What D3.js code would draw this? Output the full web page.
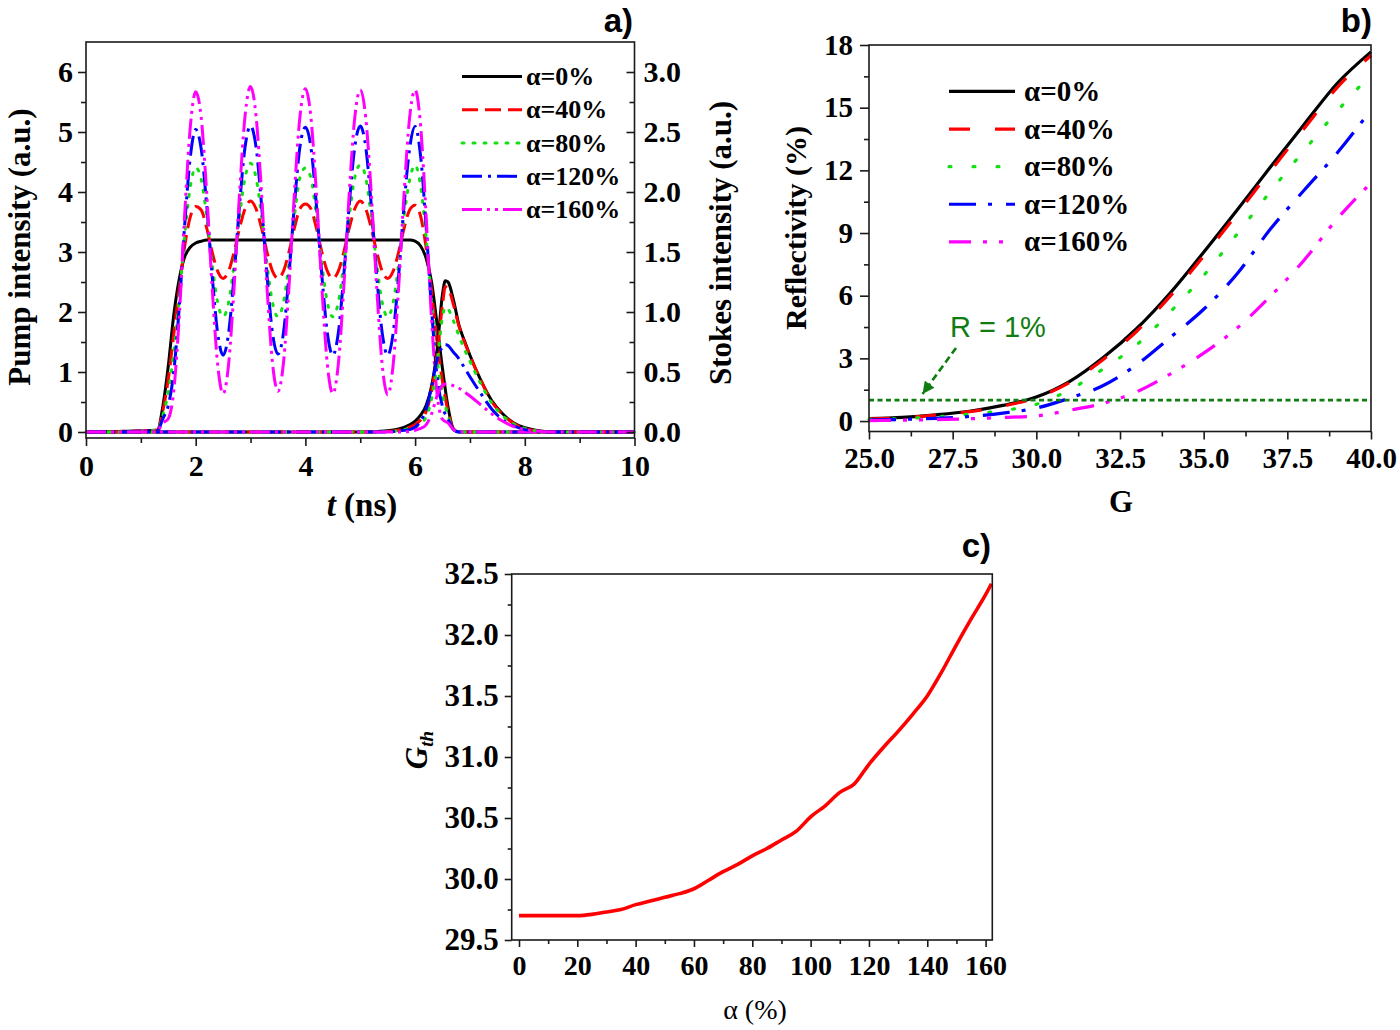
<!DOCTYPE html>
<html>
<head>
<meta charset="utf-8">
<script src="https://cdn.jsdelivr.net/npm/d3@7"></script>
<style>
  body { margin: 0; background: #fff; }
  svg { display: block; }
  text { font-family: "Liberation Serif", "Times New Roman", serif; font-weight: bold; fill: #000; }
</style>
</head>
<body>
<svg id="fig" width="1400" height="1030"></svg>
<script>
// ---------- data ----------

// legend names shared by panels a) and b)
const alphaNames = ["α=0%", "α=40%", "α=80%", "α=120%", "α=160%"];

// panel a) pump intensity (left axis, a.u.) vs t (ns)
const tPump = [0, 1.3, 1.4, 1.5, 1.6, 1.7, 1.8, 1.9, 2.0, 2.1,
  2.2, 2.3, 2.4, 2.5, 2.6, 2.7, 2.8, 2.9, 3.0, 3.1,
  3.2, 3.3, 3.4, 3.5, 3.6, 3.7, 3.8, 3.9, 4.0, 4.1,
  4.2, 4.3, 4.4, 4.5, 4.6, 4.7, 4.8, 4.9, 5.0, 5.1,
  5.2, 5.3, 5.4, 5.5, 5.6, 5.7, 5.8, 5.9,
  6.0, 6.1, 6.2, 6.3, 6.4, 6.5, 6.6, 6.7, 6.8, 10];

const pump0 = [0, 0.03, 0.42, 1.10, 1.95, 2.55, 2.92, 3.08, 3.15, 3.18,
  3.2, 3.2, 3.2, 3.2, 3.2, 3.2, 3.2, 3.2, 3.2, 3.2,
  3.2, 3.2, 3.2, 3.2, 3.2, 3.2, 3.2, 3.2, 3.2, 3.2,
  3.2, 3.2, 3.2, 3.2, 3.2, 3.2, 3.2, 3.2, 3.2, 3.2,
  3.2, 3.2, 3.2, 3.2, 3.2, 3.2, 3.2, 3.2,
  3.18, 3.10, 2.90, 2.50, 1.80, 1.05, 0.42, 0.05, 0, 0];

const pump40 = [0, 0.03, 0.35, 0.88, 1.63, 2.39, 3.10, 3.58, 3.76, 3.70,
  3.40, 3.00, 2.68, 2.56, 2.68, 3.00, 3.40, 3.72, 3.85, 3.72,
  3.40, 3.00, 2.68, 2.56, 2.68, 3.00, 3.40, 3.72, 3.80, 3.72,
  3.40, 3.00, 2.68, 2.56, 2.68, 3.00, 3.40, 3.72, 3.85, 3.72,
  3.40, 3.00, 2.68, 2.56, 2.68, 3.00, 3.40, 3.70,
  3.78, 3.60, 3.08, 2.35, 1.51, 0.84, 0.35, 0.05, 0, 0];

const pump80 = [0, 0.03, 0.28, 0.66, 1.32, 2.23, 3.28, 4.08, 4.41, 4.21,
  3.60, 2.80, 2.16, 1.92, 2.16, 2.80, 3.60, 4.24, 4.48, 4.24,
  3.60, 2.80, 2.16, 1.92, 2.16, 2.80, 3.60, 4.24, 4.40, 4.24,
  3.60, 2.80, 2.16, 1.92, 2.16, 2.80, 3.60, 4.24, 4.45, 4.24,
  3.60, 2.80, 2.16, 1.92, 2.16, 2.80, 3.60, 4.20,
  4.45, 4.10, 3.26, 2.19, 1.22, 0.63, 0.28, 0.04, 0, 0];

const pump120 = [0, 0.02, 0.22, 0.44, 1.00, 2.08, 3.46, 4.57, 5.04, 4.72,
  3.79, 2.61, 1.65, 1.28, 1.65, 2.61, 3.79, 4.75, 5.10, 4.75,
  3.79, 2.61, 1.65, 1.30, 1.65, 2.61, 3.79, 4.75, 5.08, 4.75,
  3.79, 2.61, 1.65, 1.28, 1.65, 2.61, 3.79, 4.75, 5.10, 4.75,
  3.79, 2.61, 1.65, 1.28, 1.65, 2.61, 3.79, 4.72,
  5.09, 4.60, 3.44, 2.04, 0.93, 0.42, 0.22, 0.04, 0, 0];

const pump160 = [0, 0.02, 0.15, 0.22, 0.69, 1.92, 3.64, 5.07, 5.67, 5.24,
  3.99, 2.41, 1.13, 0.64, 1.13, 2.41, 3.99, 5.27, 5.76, 5.27,
  3.99, 2.41, 1.15, 0.68, 1.15, 2.41, 3.99, 5.25, 5.72, 5.25,
  3.99, 2.41, 1.13, 0.64, 1.13, 2.41, 3.99, 5.24, 5.70, 5.24,
  3.99, 2.41, 1.12, 0.62, 1.12, 2.41, 3.99, 5.24,
  5.70, 5.11, 3.62, 1.88, 0.64, 0.21, 0.15, 0.04, 0, 0];

// panel a) Stokes intensity (right axis, a.u.) vs t (ns)
const tStokes = [0, 5.0, 5.5, 5.7, 5.9, 6.0, 6.1, 6.2, 6.3, 6.4, 6.5, 6.55, 6.6,
  6.7, 6.8, 6.9, 7.0, 7.2, 7.4, 7.6, 7.8, 8.0, 8.2, 8.5, 10];
const stokes0 = [0, 0, 0.01, 0.025, 0.06, 0.09, 0.14, 0.22, 0.38, 0.68, 1.15, 1.26, 1.25,
  1.10, 0.89, 0.76, 0.64, 0.43, 0.26, 0.15, 0.075, 0.035, 0.015, 0, 0];
const stokes40 = [0, 0, 0.005, 0.015, 0.04, 0.06, 0.10, 0.17, 0.34, 0.64, 1.06, 1.21, 1.20,
  1.06, 0.88, 0.75, 0.635, 0.43, 0.25, 0.145, 0.07, 0.03, 0.01, 0, 0];
const stokes80 = [0, 0, 0.005, 0.01, 0.03, 0.04, 0.07, 0.125, 0.275, 0.56, 0.96, 1.04, 1.025,
  0.925, 0.80, 0.69, 0.59, 0.40, 0.24, 0.135, 0.065, 0.03, 0.01, 0, 0];
const stokes120 = [0, 0, 0, 0.01, 0.02, 0.04, 0.09, 0.19, 0.375, 0.60, 0.71, 0.73, 0.72,
  0.665, 0.61, 0.535, 0.46, 0.32, 0.19, 0.10, 0.05, 0.02, 0.008, 0, 0];
const stokes160 = [0, 0, 0, 0, 0.005, 0.015, 0.03, 0.06, 0.15, 0.30, 0.39, 0.40, 0.40,
  0.385, 0.365, 0.335, 0.30, 0.225, 0.15, 0.09, 0.045, 0.02, 0.008, 0, 0];

// panel b) reflectivity (%) vs G
const gainG = [25, 26, 27, 28, 29, 30, 31, 32, 33, 34, 35, 36, 37, 38, 39, 40];
const refl0 = [0.12, 0.18, 0.30, 0.47, 0.75, 1.15, 1.90, 3.04, 4.43, 6.13, 8.08, 10.1, 12.17, 14.2, 16.18, 17.67];
const refl40 = [0.10, 0.16, 0.28, 0.45, 0.72, 1.12, 1.85, 2.95, 4.30, 5.98, 7.90, 9.92, 11.98, 14.0, 15.98, 17.5];
const refl80 = [0.08, 0.12, 0.20, 0.33, 0.50, 0.80, 1.50, 2.50, 3.65, 5.22, 6.97, 8.95, 11.0, 12.95, 14.85, 16.6];
const refl120 = [0.05, 0.08, 0.13, 0.22, 0.38, 0.62, 1.10, 1.70, 2.70, 4.00, 5.35, 7.05, 9.20, 11.05, 12.85, 14.9];
const refl160 = [0.02, 0.04, 0.07, 0.11, 0.17, 0.25, 0.52, 0.85, 1.40, 2.25, 3.25, 4.45, 5.98, 7.70, 9.70, 11.4];
const thresholdR = 1;                       // R = 1% reference line
const arrowFrom = [27.6, 3.5], arrowTo = [26.6, 1.3], labelAt = [27.42, 4.03];

// panel c) threshold gain G_th vs alpha (%)
const alphaPct = [0, 5, 10, 15, 20, 25, 30, 35, 40, 45, 50, 55, 60, 65, 70, 75, 80, 85, 90, 95,
  100, 105, 110, 115, 120, 125, 130, 135, 140, 145, 150, 155, 160, 162];
const gth = [29.70, 29.70, 29.70, 29.70, 29.70, 29.71, 29.73, 29.75, 29.79, 29.82, 29.85, 29.88,
  29.92, 29.99, 30.06, 30.12, 30.19, 30.25, 30.32, 30.39, 30.51, 30.60, 30.71, 30.78, 30.94,
  31.08, 31.21, 31.35, 31.50, 31.70, 31.92, 32.13, 32.33, 32.42];

// tick values
const ticksAx = [0, 2, 4, 6, 8, 10], ticksAy = [0, 1, 2, 3, 4, 5, 6], ticksAr = [0, 0.5, 1, 1.5, 2, 2.5, 3];
const ticksBx = [25, 27.5, 30, 32.5, 35, 37.5, 40], ticksBy = [0, 3, 6, 9, 12, 15, 18];
const ticksCx = [0, 20, 40, 60, 80, 100, 120, 140, 160], ticksCy = [29.5, 30, 30.5, 31, 31.5, 32, 32.5];

// ---------- styles ----------
const colors = ["#000000", "#ff0000", "#11e011", "#0000ff", "#ff00ff"];
const dashA = [null, "16,7", "2,9", "20,6,3,6", "20,5,3,5,3,5"];
const dashB = [null, "21,25", "2,22", "27,12,4,14", "22,12,4,12,4,14"];
const ink = "#1a1a1a";
const fmtInt = d3.format("d"), fmt1 = d3.format(".1f");

const svg = d3.select("#fig");

function frame(x, y) {
  const [x0, x1] = x.range(), [y0, y1] = y.range();
  svg.append("rect").attr("x", x0).attr("y", y1)
    .attr("width", x1 - x0).attr("height", y0 - y1)
    .attr("fill", "none").attr("stroke", ink).attr("stroke-width", 1.6);
}

function axis(gen, tx, ty, fs) {
  const g = svg.append("g").attr("transform", `translate(${tx},${ty})`).call(gen);
  g.select(".domain").remove();
  g.selectAll("line").attr("stroke", ink).attr("stroke-width", 1.6);
  g.selectAll("text").attr("font-size", fs);
  return g;
}

function mids(vals) {
  const out = [];
  for (let i = 0; i < vals.length - 1; i++) out.push((vals[i] + vals[i + 1]) / 2);
  return out;
}

function series(xs, ys, x, y, color, dash, w) {
  const line = d3.line().curve(d3.curveMonotoneX)
    .x((d, i) => x(xs[i])).y(d => y(d));
  svg.append("path").datum(ys)
    .attr("d", line)
    .attr("fill", "none")
    .attr("stroke", color)
    .attr("stroke-width", w)
    .attr("stroke-dasharray", dash)
    .attr("stroke-linecap", dash && dash.startsWith("2,") ? "round" : "butt")
    .attr("stroke-linejoin", "round");
}

function legend(x0, x1, tx, y0, step, fs, dashes, w) {
  alphaNames.forEach((name, i) => {
    const by = y0 + i * step;
    svg.append("line").attr("x1", x0).attr("x2", x1)
      .attr("y1", by - fs * 0.33).attr("y2", by - fs * 0.33)
      .attr("stroke", colors[i]).attr("stroke-width", w)
      .attr("stroke-dasharray", dashes[i])
      .attr("stroke-linecap", dashes[i] && dashes[i].startsWith("2,") ? "round" : "butt");
    svg.append("text").attr("x", tx).attr("y", by).attr("font-size", fs).text(name);
  });
}

function rotTitle(cx, cy, fs) {
  return svg.append("text")
    .attr("transform", `translate(${cx},${cy}) rotate(-90)`)
    .attr("text-anchor", "middle").attr("dy", "0.35em").attr("font-size", fs);
}

function panelLabel(txt, x, y) {
  svg.append("text").attr("x", x).attr("y", y).attr("text-anchor", "end")
    .attr("font-size", 33).style("font-family", '"Liberation Sans", Arial, sans-serif')
    .text(txt);
}

// ================= panel a =================
const xA = d3.scaleLinear().domain([0, 10]).range([86, 634.5]);
const yA = d3.scaleLinear().domain([-0.1, 6.5]).range([438, 42]);
const yS = d3.scaleLinear().domain([-0.05, 3.25]).range([438, 42]);

const pumps = [pump0, pump40, pump80, pump120, pump160];
const stokes = [stokes0, stokes40, stokes80, stokes120, stokes160];
pumps.forEach((p, i) => series(tPump, p, xA, yA, colors[i], dashA[i], 3));
stokes.forEach((s, i) => series(tStokes, s, xA, yS, colors[i], dashA[i], 3));

frame(xA, yA);
axis(d3.axisLeft(yA).tickValues(ticksAy).tickSize(8).tickPadding(5).tickFormat(fmtInt), 86, 0, 30);
axis(d3.axisLeft(yA).tickValues(mids(ticksAy)).tickSize(5).tickFormat(""), 86, 0, 30);
axis(d3.axisBottom(xA).tickValues(ticksAx).tickSize(8).tickPadding(8.5).tickFormat(fmtInt), 0, 438, 30);
axis(d3.axisBottom(xA).tickValues(mids(ticksAx)).tickSize(5).tickFormat(""), 0, 438, 30);
axis(d3.axisRight(yS).tickValues(ticksAr).tickSize(-8).tickPadding(9).tickFormat(fmt1), 634.5, 0, 30);
axis(d3.axisRight(yS).tickValues(mids(ticksAr)).tickSize(-5).tickFormat(""), 634.5, 0, 30);

rotTitle(19, 247, 31).text("Pump intensity (a.u.)");
rotTitle(720, 243, 31).text("Stokes intensity (a.u.)");
const tt = svg.append("text").attr("x", 362).attr("y", 516).attr("text-anchor", "middle").attr("font-size", 33);
tt.append("tspan").attr("font-style", "italic").text("t");
tt.append("tspan").text(" (ns)");
legend(462, 522, 526, 85, 33.3, 26, dashA, 3);
panelLabel("a)", 633, 32);

// ================= panel b =================
const xB = d3.scaleLinear().domain([25, 40]).range([869, 1371]);
const yB = d3.scaleLinear().domain([-0.5, 18]).range([431.5, 45]);

const refls = [refl0, refl40, refl80, refl120, refl160];
refls.forEach((r, i) => series(gainG, r, xB, yB, colors[i], dashB[i], 3.2));

const green = "#0f7d0f";
svg.append("line")
  .attr("x1", xB(25)).attr("x2", xB(40))
  .attr("y1", yB(thresholdR)).attr("y2", yB(thresholdR))
  .attr("stroke", green).attr("stroke-width", 2.6).attr("stroke-dasharray", "5,3.5");

svg.append("defs").append("marker")
  .attr("id", "head").attr("viewBox", "0 0 10 10")
  .attr("refX", 10).attr("refY", 5)
  .attr("markerUnits", "userSpaceOnUse")
  .attr("markerWidth", 13).attr("markerHeight", 12)
  .attr("orient", "auto")
  .append("path").attr("d", "M0,0L10,5L0,10z").attr("fill", green);
svg.append("line")
  .attr("x1", xB(arrowFrom[0])).attr("y1", yB(arrowFrom[1]))
  .attr("x2", xB(arrowTo[0])).attr("y2", yB(arrowTo[1]))
  .attr("stroke", green).attr("stroke-width", 2.6).attr("stroke-dasharray", "7,4")
  .attr("marker-end", "url(#head)");
svg.append("text").attr("x", xB(labelAt[0])).attr("y", yB(labelAt[1]))
  .attr("font-size", 29).style("font-family", '"Liberation Sans", Arial, sans-serif')
  .style("font-weight", "normal").style("fill", green).text("R = 1%");

frame(xB, yB);
axis(d3.axisLeft(yB).tickValues(ticksBy).tickSize(9).tickPadding(7).tickFormat(fmtInt), 869, 0, 29);
axis(d3.axisLeft(yB).tickValues(mids(ticksBy)).tickSize(5).tickFormat(""), 869, 0, 29);
axis(d3.axisBottom(xB).tickValues(ticksBx).tickSize(8).tickPadding(8).tickFormat(fmt1), 0, 431.5, 29);
axis(d3.axisBottom(xB).tickValues(mids(ticksBx)).tickSize(5).tickFormat(""), 0, 431.5, 29);

rotTitle(795, 228, 30).text("Reflectivity (%)");
svg.append("text").attr("x", 1121).attr("y", 512).attr("text-anchor", "middle").attr("font-size", 31).text("G");
legend(949, 1015, 1024, 101, 37.6, 29, dashB, 3.2);
panelLabel("b)", 1372, 32);

// ================= panel c =================
const xC = d3.scaleLinear().domain([-2.5, 162.3]).range([511.7, 992.3]);
const yC = d3.scaleLinear().domain([29.5, 32.5]).range([940, 574]);

series(alphaPct, gth, xC, yC, "#ff0000", null, 3.6);

frame(xC, yC);
axis(d3.axisLeft(yC).tickValues(ticksCy).tickSize(7).tickPadding(6).tickFormat(fmt1), 511.7, 0, 31);
axis(d3.axisLeft(yC).tickValues(mids(ticksCy)).tickSize(4).tickFormat(""), 511.7, 0, 31);
axis(d3.axisBottom(xC).tickValues(ticksCx).tickSize(7).tickPadding(8).tickFormat(fmtInt), 0, 940, 28);
axis(d3.axisBottom(xC).tickValues(mids(ticksCx)).tickSize(4).tickFormat(""), 0, 940, 28);

const gt = rotTitle(416, 750, 31);
gt.append("tspan").attr("font-style", "italic").text("G");
gt.append("tspan").attr("font-style", "italic").attr("font-size", 19).attr("dy", "0.3em").text("th");
svg.append("text").attr("x", 755).attr("y", 1019).attr("text-anchor", "middle")
  .attr("font-size", 28).style("font-weight", "normal").text("α (%)");
panelLabel("c)", 991, 557);
</script>
</body>
</html>
